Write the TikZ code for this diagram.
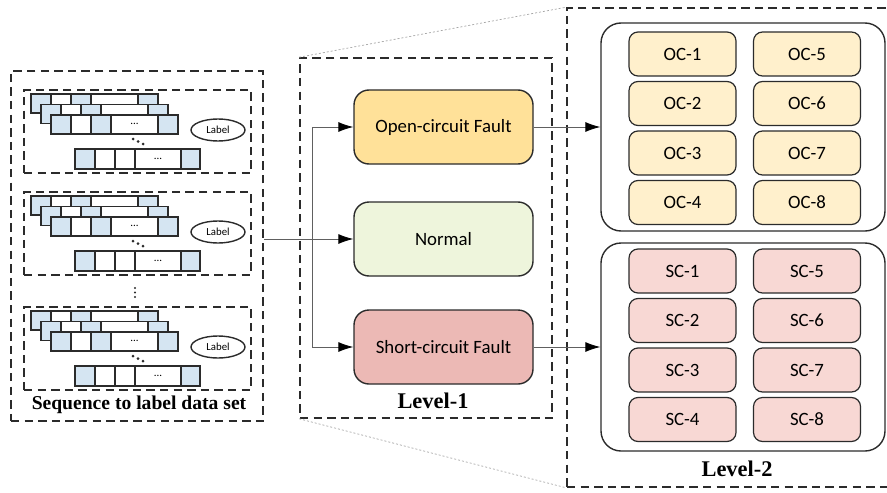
\documentclass[tikz,border=0pt]{standalone}
\usepackage{fontspec}
\setmainfont{Liberation Serif}
\newfontfamily\calfont{Carlito}
\usetikzlibrary{arrows.meta,shapes.geometric}

\definecolor{linec}{HTML}{2B2B2B}
\definecolor{cellblue}{HTML}{D5E5F2}
\definecolor{ocmain}{HTML}{FFE199}
\definecolor{nmmain}{HTML}{EEF5DC}
\definecolor{scmain}{HTML}{ECB9B5}
\definecolor{occell}{HTML}{FFF0CC}
\definecolor{sccell}{HTML}{F8D8D4}

\tikzset{
  dashbox/.style={draw=linec, line width=0.8pt, dash pattern=on 4.2pt off 2.6pt,
    rectangle, inner sep=0pt},
  bcell/.style={draw=linec, line width=0.6pt, fill=cellblue},
  wcell/.style={draw=linec, line width=0.6pt, fill=white},
  mainbox/.style={draw=linec, line width=0.7pt, rounded corners=7.5pt,
    minimum width=89.5pt, minimum height=37pt, font=\calfont\fontsize{9.4}{11}\selectfont},
  groupbox/.style={draw=linec, line width=0.7pt, rounded corners=10pt,
    minimum width=142pt, minimum height=104pt},
  subbox/.style={draw=linec, line width=0.6pt, rounded corners=4.5pt,
    minimum width=53.5pt, minimum height=22pt, font=\calfont\fontsize{9.4}{11}\selectfont},
  conn/.style={draw=linec!75, line width=0.45pt,
    -{Latex[length=7.5pt,width=5pt,color=black]}},
  zoomline/.style={draw=gray!70, line width=0.35pt, dash pattern=on 1pt off 1pt},
  boldlabel/.style={font=\bfseries\fontsize{11.2}{12}\selectfont, inner sep=0pt},
  dotslabel/.style={font=\calfont\fontsize{5.5}{6}\selectfont, inner sep=0pt},
  tag/.style={draw=linec, line width=0.7pt, ellipse, minimum width=27pt,
    minimum height=11pt, inner sep=0pt, font=\calfont\fontsize{5.4}{6}\selectfont},
}

\begin{document}
\begin{tikzpicture}[x=0.5pt, y=-0.5pt]
\useasboundingbox (0,0) rectangle (887,492);

% ---- outer frames ----
\node[dashbox, minimum width=126pt, minimum height=175pt] (seqset) at (137,246) {};
\node[dashbox, minimum width=126pt, minimum height=180pt] (lvone) at (426,238) {};
\node[dashbox, minimum width=160.5pt, minimum height=239.5pt] (lvtwo) at (727.5,247.5) {};

% zoom guide lines between the two levels
\draw[zoomline] (lvone.north west) -- (lvtwo.north west);
\draw[zoomline] (lvone.south west) -- (lvtwo.south west);

% ---- sequence samples ----
\foreach \off/\g in {0/a, 102/b, 217/c} {
  \begin{scope}[shift={(0,\off)}]
    \node[dashbox, minimum width=113.5pt, minimum height=41.5pt] (grp\g) at (137.5,131.5) {};
    % three stacked sequences, back to front
    \foreach \k in {0,1,2} {
      \pgfmathsetmacro{\xa}{31+10*\k}
      \pgfmathsetmacro{\ya}{94+10.5*\k}
      \draw[bcell] (\xa,\ya) rectangle ++(20,19);
      \draw[wcell] (\xa+20,\ya) rectangle ++(20,19);
      \draw[bcell] (\xa+40,\ya) rectangle ++(20,19);
      \draw[wcell] (\xa+60,\ya) rectangle ++(47,19);
      \draw[bcell] (\xa+107,\ya) rectangle ++(20,19);
    }
    \node[dotslabel] (dfront\g) at (134.5,124) {...};
    % diagonal dots
    \foreach \i in {0,1,2}
      \fill[linec] (133+5*\i,139+2.5*\i) circle (0.75pt);
    % last sequence
    \draw[bcell] (75,149) rectangle (95,169);
    \draw[wcell] (95,149) rectangle (115,169);
    \draw[wcell] (115,149) rectangle (135,169);
    \draw[wcell] (135,149) rectangle (181,169);
    \draw[bcell] (181,149) rectangle (200,169);
    \node[dotslabel] (dlast\g) at (158,158.5) {...};
    \node[tag] (tag\g) at (218,130) {Label};
  \end{scope}
}
% vertical dots between samples
\foreach \i in {0,1,2}
  \fill[linec] (135,288+4.5*\i) circle (0.6pt);

\node[boldlabel, font=\bfseries\fontsize{9.8}{11}\selectfont] (seqtitle) at (139,405) {Sequence to label data set};

% ---- level 1 ----
\node[mainbox, fill=ocmain] (oc) at (443.5,127) {Open-circuit Fault};
\node[mainbox, fill=nmmain] (nm) at (443.5,239) {Normal};
\node[mainbox, fill=scmain] (sc) at (443.5,347) {Short-circuit Fault};
\node[boldlabel] (lvonetitle) at (433,401) {Level-1};

\coordinate (busup) at (312,127);
\coordinate (busdown) at (312,347);
\draw[conn] (nm.west -| seqset.east) -- (nm.west);
\draw[draw=linec!75, line width=0.45pt] (busup) -- (busdown);
\draw[conn] (busup) -- (oc.west);
\draw[conn] (busdown) -- (sc.west);

% ---- level 2 ----
\node[groupbox] (ocgroup) at (743,127) {};
\node[groupbox] (scgroup) at (743,347) {};
\draw[conn] (oc.east) -- (ocgroup.west);
\draw[conn] (sc.east) -- (scgroup.west);

\foreach \n/\c/\y in {1/682.5/54, 2/682.5/103.5, 3/682.5/153, 4/682.5/202.5,
                      5/807/54, 6/807/103.5, 7/807/153, 8/807/202.5} {
  \node[subbox, fill=occell] (oc\n) at (\c,\y) {OC-\n};
  \node[subbox, fill=sccell] (sc\n) at (\c,\y+217) {SC-\n};
}
\node[boldlabel] (lvtwotitle) at (737,469) {Level-2};
\end{tikzpicture}
\end{document}
